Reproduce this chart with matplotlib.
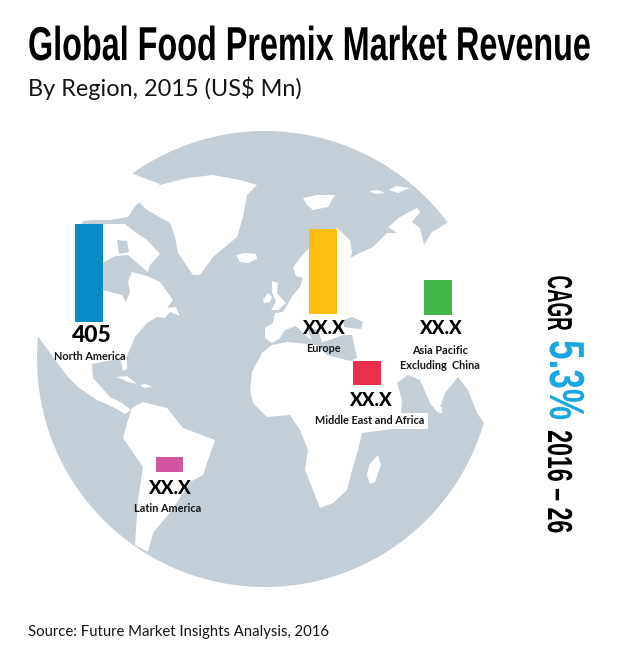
"""
Global food premix market revenue by region, bars placed over a world disc
"""
import matplotlib
matplotlib.use('Agg')
import matplotlib.pyplot as plt
from matplotlib.patches import Circle, Polygon
from matplotlib.patheffects import AbstractPathEffect
from matplotlib.transforms import Affine2D

# chart data
regions = ['North America', 'Europe', 'Asia Pacific\nExcluding  China',
           'Middle East and Africa', 'Latin America']
values = [405, 351, 145, 99, 62]  # bar lengths
value_labels = ['405', 'XX.X', 'XX.X', 'XX.X', 'XX.X']
colors = ['#0a8bc7', '#ffbc12', '#43b649', '#e8304b', '#d2569f']

# layout, in image pixels
bar_x = [89, 323, 438, 367, 169]
bar_base = [322, 314, 315, 385, 472]
bar_width = [28, 28, 28, 28, 27]
value_y = [335, 329, 329, 400, 488]
name_y = [357, 349, 358, 421, 509]
name_x = [90, 323, 440, 370, 168]
value_x = [92, 323, 440, 370, 169]
PX_PER_MN = 98 / 405
GREY = '#c4ced6'

# land outlines, only decoration under the bars
north_america = [(15, 330), (37, 335), (53, 357), (68, 377), (78, 387), (97, 400), (113, 407),
                 (125, 414), (131, 410), (122, 403), (110, 397), (102, 388), (93, 378), (92, 364),
                 (108, 361), (120, 358), (123, 371), (127, 369), (127, 356), (135, 337), (147, 323),
                 (157, 317), (165, 318), (170, 312), (180, 316), (176, 307), (167, 308), (173, 300),
                 (160, 282), (147, 276), (132, 272), (128, 282), (130, 292), (126, 302), (122, 295),
                 (103, 290), (90, 280), (85, 270), (80, 225), (60, 215), (15, 250)]
arctic_baffin = [(100, 224), (125, 224), (135, 232), (147, 240), (160, 254), (150, 265), (148, 272),
                 (136, 262), (128, 255), (115, 256), (103, 263)]
arctic_north = [(76, 222), (60, 170), (128, 172), (160, 184), (150, 196), (136, 205), (128, 217),
                (110, 220), (92, 220)]
greenland = [(160, 185), (187, 178), (213, 175), (240, 180), (257, 185), (247, 195), (243, 217),
             (237, 237), (213, 257), (200, 275), (193, 275), (178, 253), (175, 237), (170, 223),
             (147, 210), (140, 203)]
iceland = [(236, 255), (245, 253), (256, 254), (257, 259), (248, 263), (240, 262)]
south_america = [(128, 420), (132, 408), (143, 402), (167, 408), (183, 428), (215, 440), (208, 460),
                 (203, 475), (190, 482), (172, 510), (153, 533), (148, 552), (135, 545), (138, 500),
                 (143, 467), (123, 438)]
cuba = [(117, 377), (127, 376), (137, 384), (128, 382)]
hispaniola = [(140, 385), (146, 384), (152, 387), (144, 388)]
britain = [(272, 281), (278, 283), (277, 293), (286, 303), (278, 310), (271, 310), (276, 302), (272, 292)]
ireland = [(263, 300), (268, 293), (272, 297), (270, 302), (264, 303)]
eurasia_africa = [(272, 343), (265, 338), (265, 328), (273, 323), (275, 313), (283, 312), (293, 295),
                  (300, 287), (303, 278), (296, 276), (293, 268), (300, 258), (309, 248), (320, 235),
                  (337, 228), (350, 240), (352, 253), (350, 258), (362, 252), (373, 247), (387, 233),
                  (397, 233), (388, 227), (400, 217), (417, 208), (420, 212), (412, 222), (420, 228),
                  (424, 245), (432, 232), (447, 223), (530, 200), (530, 430), (484, 423), (477, 413),
                  (468, 390), (458, 377), (445, 393), (438, 413), (430, 403), (420, 380), (408, 375),
                  (397, 383), (402, 400), (400, 428), (362, 433), (358, 450), (352, 470), (347, 490),
                  (333, 503), (320, 508), (313, 490), (305, 470), (308, 450), (300, 430), (290, 415),
                  (267, 417), (253, 403), (250, 390), (252, 372), (262, 353), (272, 345), (287, 342),
                  (317, 345), (327, 355), (350, 361), (357, 358), (352, 335), (343, 335), (330, 340),
                  (322, 342), (318, 330), (306, 326), (312, 340), (304, 334), (296, 326), (285, 330),
                  (280, 338)]
madagascar = [(378, 455), (381, 465), (375, 482), (370, 484), (367, 475), (369, 465)]
svalbard = [(303, 198), (317, 195), (335, 195), (328, 207), (313, 210), (307, 205)]
sri_lanka = [(438, 406), (442, 407), (442, 413), (439, 413)]
arctic_bits = [[(369, 191), (378, 190), (385, 193), (375, 194)],
               [(389, 190), (396, 186), (410, 188), (398, 193)]]
black_sea = [(343, 320), (352, 317), (363, 322), (361, 329), (350, 328), (344, 327)]
foxe_basin = [(117, 240), (127, 241), (129, 252), (119, 254)]

land = [north_america, arctic_baffin, arctic_north, greenland, iceland, south_america, cuba,
        hispaniola, britain, ireland, eurasia_africa, madagascar, svalbard, sri_lanka] + arctic_bits
water = [black_sea, foxe_basin]


class Stretch(AbstractPathEffect):
    """Stretch drawn glyphs about a baseline, the installed fonts have no condensed cut"""

    def __init__(self, origin, sx=1.0, sy=1.0):
        self.origin = origin
        self.sx = sx
        self.sy = sy

    def draw_path(self, renderer, gc, tpath, affine, rgbFace=None):
        ox, oy = self.origin
        stretched = affine + Affine2D().translate(-ox, -oy).scale(self.sx, self.sy).translate(ox, oy)
        renderer.draw_path(gc, tpath, stretched, rgbFace)


plt.rcParams['font.family'] = ['Lato', 'DejaVu Sans']
heading = ['Liberation Sans', 'DejaVu Sans']

fig = plt.figure(figsize=(6.2, 6.5), dpi=100)
ax = fig.add_axes([0, 0, 1, 1])
ax.set_xlim(0, 620)
ax.set_ylim(650, 0)
ax.axis('off')

ax.add_patch(Circle((265, 359), 228, color=GREY, lw=0, zorder=1))
for shape in land:
    ax.add_patch(Polygon(shape, closed=True, color='white', lw=0, zorder=2))
for shape in water:
    ax.add_patch(Polygon(shape, closed=True, color=GREY, lw=0, zorder=3))

lengths = [-v * PX_PER_MN for v in values]
ax.bar(bar_x, lengths, width=bar_width, bottom=bar_base, color=colors, zorder=4)

for i, name in enumerate(regions):
    ax.text(value_x[i], value_y[i], value_labels[i], ha='center', va='center',
            fontsize=16.5 if i == 0 else 13.5, fontweight=900, color='black', zorder=5)
    halo = dict(facecolor='white', edgecolor='none', pad=2) if i == 3 else None
    ax.text(name_x[i], name_y[i], name, ha='center', va='center', fontsize=7.8, fontweight='bold',
            color='#151515', linespacing=1.35, zorder=5, bbox=halo)

title = ax.text(28, 60, 'Global Food Premix Market Revenue', ha='left', va='baseline', family=heading,
                fontsize=23.3, fontweight='bold', color='black')
title.set_path_effects([Stretch(ax.transData.transform((28, 60)), sy=1.47)])
ax.text(28, 96, 'By Region, 2015 (US$ Mn)', ha='left', va='baseline', fontsize=16.9, color='#151515')
ax.text(28, 636, 'Source: Future Market Insights Analysis, 2016', ha='left', va='baseline',
        fontsize=10.7, color='#151515')

# rotated note, glyph tops point right so the baseline is the left edge
side_notes = [('CAGR', 303, 548, 13.5, 1.85, 'black'),
              ('5.3%', 380, 550, 25.3, 1.4, '#1aa7e1'),
              ('2016 \u2013 26', 481.5, 548, 16.7, 1.5, 'black')]
for label, y, x, size, factor, color in side_notes:
    note = ax.text(x, y, label, rotation=-90, rotation_mode='anchor', ha='center', va='baseline',
                   family=heading, fontsize=size, fontweight='bold', color=color)
    note.set_path_effects([Stretch(ax.transData.transform((x, y)), sx=factor)])

fig.savefig('out.png', dpi=100)
